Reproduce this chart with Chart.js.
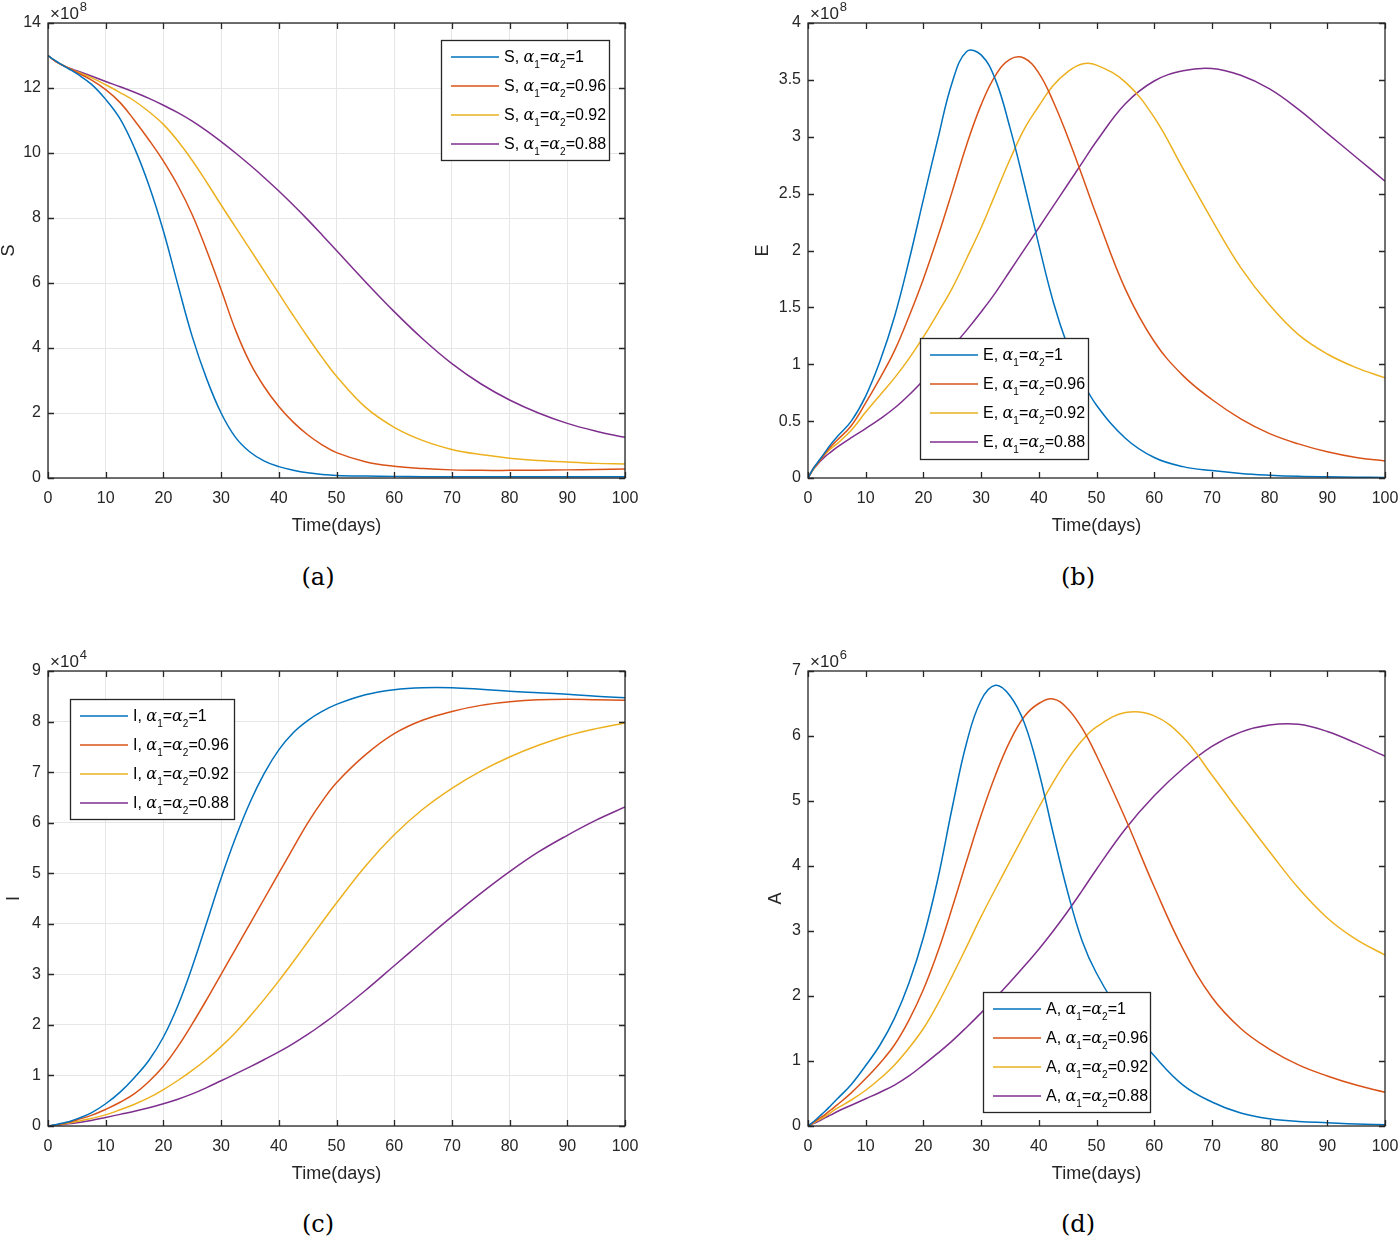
<!DOCTYPE html>
<html>
<head>
<meta charset="utf-8">
<script src="https://cdn.jsdelivr.net/npm/chart.js@4.4.1/dist/chart.umd.min.js"></script>
<style>
  body { margin: 0; background: #fff; width: 1398px; height: 1239px; position: relative; overflow: hidden; }
  canvas { position: absolute; }
  .cap { position: absolute; font-family: "DejaVu Serif", serif; font-size: 24px; color: #000; transform: translate(-50%, -50%); }
</style>
</head>
<body>
<canvas id="chart-s" style="left:0;top:0" width="699" height="560"></canvas>
<canvas id="chart-e" style="left:750px;top:0" width="648" height="560"></canvas>
<canvas id="chart-i" style="left:0;top:648px" width="699" height="560"></canvas>
<canvas id="chart-a" style="left:750px;top:648px" width="648" height="560"></canvas>
<div class="cap" style="left:318px;top:577px">(a)</div>
<div class="cap" style="left:1078px;top:577px">(b)</div>
<div class="cap" style="left:318px;top:1224px">(c)</div>
<div class="cap" style="left:1078px;top:1224px">(d)</div>
<script>
// time axis shared by all four panels
const days = [0, 1, 2, 3, 4, 5, 7.5, 10, 12.5, 15, 17.5, 20, 22.5, 25, 27.5, 30, 32.5, 35, 37.5, 40, 42.5, 45, 47.5, 50, 55, 60, 65, 70, 75, 80, 85, 90, 95, 100];
const alphaValues = ["1", "0.96", "0.92", "0.88"];
const colors = ["#0072BD", "#D95319", "#EDB120", "#7E2F8E"];

// S (x 10^8)
const sAlpha100 = [13, 12.87, 12.76, 12.65, 12.55, 12.44, 12.12, 11.65, 11.05, 10.15, 9.0, 7.6, 5.95, 4.35, 3.05, 2.0, 1.25, 0.8, 0.52, 0.35, 0.24, 0.16, 0.11, 0.08, 0.06, 0.05, 0.04, 0.04, 0.04, 0.04, 0.04, 0.04, 0.04, 0.04];
const sAlpha096 = [13, 12.86, 12.75, 12.66, 12.57, 12.48, 12.25, 11.95, 11.55, 11.0, 10.4, 9.75, 9.0, 8.1, 7.0, 5.8, 4.55, 3.55, 2.8, 2.2, 1.72, 1.33, 1.02, 0.78, 0.5, 0.36, 0.29, 0.25, 0.235, 0.235, 0.24, 0.25, 0.265, 0.28];
const sAlpha092 = [13, 12.86, 12.75, 12.66, 12.58, 12.5, 12.32, 12.1, 11.86, 11.6, 11.27, 10.88, 10.37, 9.77, 9.1, 8.4, 7.72, 7.04, 6.36, 5.68, 5.0, 4.34, 3.71, 3.13, 2.18, 1.56, 1.15, 0.88, 0.72, 0.61, 0.54, 0.49, 0.45, 0.43];
const sAlpha088 = [13, 12.86, 12.75, 12.66, 12.59, 12.53, 12.37, 12.2, 12.04, 11.87, 11.68, 11.47, 11.24, 10.98, 10.68, 10.35, 10.0, 9.63, 9.24, 8.83, 8.4, 7.95, 7.48, 7.0, 6.04, 5.12, 4.27, 3.52, 2.9, 2.4, 2.0, 1.68, 1.44, 1.25];

// E (x 10^8)
const eAlpha100 = [0, 0.09, 0.16, 0.23, 0.3, 0.36, 0.5, 0.72, 1.03, 1.42, 1.91, 2.45, 2.98, 3.48, 3.75, 3.72, 3.5, 3.08, 2.58, 2.05, 1.55, 1.16, 0.86, 0.64, 0.35, 0.18, 0.1, 0.065, 0.04, 0.025, 0.015, 0.01, 0.007, 0.005];
const eAlpha096 = [0, 0.09, 0.15, 0.22, 0.28, 0.33, 0.46, 0.66, 0.88, 1.12, 1.42, 1.75, 2.12, 2.52, 2.93, 3.28, 3.54, 3.68, 3.69, 3.56, 3.31, 3.0, 2.66, 2.31, 1.66, 1.2, 0.9, 0.69, 0.52, 0.39, 0.3, 0.23, 0.18, 0.15];
const eAlpha092 = [0, 0.08, 0.15, 0.21, 0.26, 0.3, 0.42, 0.58, 0.73, 0.88, 1.05, 1.24, 1.45, 1.67, 1.93, 2.2, 2.5, 2.8, 3.07, 3.27, 3.45, 3.57, 3.64, 3.63, 3.48, 3.17, 2.72, 2.27, 1.85, 1.52, 1.26, 1.09, 0.97, 0.88];
const eAlpha088 = [0, 0.08, 0.14, 0.19, 0.23, 0.27, 0.355, 0.435, 0.52, 0.615, 0.73, 0.86, 1.0, 1.15, 1.3, 1.46, 1.63, 1.82, 2.01, 2.2, 2.39, 2.58, 2.77, 2.96, 3.29, 3.49, 3.58, 3.6, 3.54, 3.42, 3.24, 3.03, 2.82, 2.61];

// I (x 10^4)
const iAlpha100 = [0, 0.02, 0.045, 0.07, 0.1, 0.14, 0.26, 0.44, 0.67, 0.96, 1.3, 1.76, 2.38, 3.15, 4.02, 4.9, 5.7, 6.4, 6.98, 7.44, 7.78, 8.02, 8.2, 8.34, 8.53, 8.63, 8.67, 8.67, 8.64, 8.6, 8.57, 8.54, 8.5, 8.47];
const iAlpha096 = [0, 0.015, 0.035, 0.06, 0.085, 0.12, 0.21, 0.33, 0.47, 0.64, 0.88, 1.18, 1.57, 2.02, 2.5, 3.0, 3.5, 4.0, 4.5, 5.0, 5.5, 5.99, 6.42, 6.79, 7.34, 7.76, 8.03, 8.2, 8.32, 8.39, 8.43, 8.44, 8.43, 8.42];
const iAlpha092 = [0, 0.01, 0.025, 0.045, 0.065, 0.09, 0.15, 0.22, 0.32, 0.43, 0.56, 0.72, 0.9, 1.1, 1.32, 1.57, 1.85, 2.17, 2.51, 2.87, 3.25, 3.64, 4.03, 4.41, 5.14, 5.76, 6.27, 6.68, 7.02, 7.3, 7.53, 7.72, 7.86, 7.97];
const iAlpha088 = [0, 0.01, 0.02, 0.035, 0.05, 0.065, 0.11, 0.17, 0.23, 0.29, 0.36, 0.44, 0.53, 0.635, 0.76, 0.895, 1.03, 1.17, 1.315, 1.465, 1.63, 1.81, 2.01, 2.22, 2.68, 3.17, 3.66, 4.14, 4.6, 5.03, 5.42, 5.75, 6.05, 6.31];

// A (x 10^6)
const aAlpha100 = [0, 0.07, 0.15, 0.23, 0.32, 0.41, 0.64, 0.93, 1.25, 1.66, 2.2, 2.9, 3.8, 4.9, 5.9, 6.55, 6.78, 6.62, 6.2, 5.45, 4.5, 3.6, 2.85, 2.35, 1.62, 1.08, 0.63, 0.37, 0.2, 0.11, 0.07, 0.05, 0.03, 0.02];
const aAlpha096 = [0, 0.06, 0.12, 0.18, 0.25, 0.32, 0.51, 0.73, 0.97, 1.25, 1.63, 2.1, 2.68, 3.36, 4.08, 4.78, 5.4, 5.92, 6.3, 6.5, 6.57, 6.42, 6.12, 5.7, 4.73, 3.68, 2.72, 1.98, 1.5, 1.18, 0.94, 0.77, 0.63, 0.52];
const aAlpha092 = [0, 0.05, 0.1, 0.15, 0.21, 0.27, 0.4, 0.55, 0.73, 0.94, 1.2, 1.5, 1.88, 2.31, 2.76, 3.22, 3.65, 4.07, 4.49, 4.9, 5.29, 5.64, 5.93, 6.14, 6.36, 6.31, 5.98, 5.4, 4.8, 4.22, 3.66, 3.2, 2.87, 2.63];
const aAlpha088 = [0, 0.04, 0.08, 0.13, 0.17, 0.22, 0.32, 0.42, 0.52, 0.63, 0.77, 0.94, 1.12, 1.31, 1.52, 1.74, 1.97, 2.21, 2.46, 2.72, 3.0, 3.3, 3.62, 3.95, 4.57, 5.08, 5.5, 5.84, 6.06, 6.17, 6.18, 6.07, 5.89, 5.69];

const SANS = "'Liberation Sans', Arial, sans-serif";
const AXIS_COLOR = "#262626";

const panels = [
  { canvas: "chart-s", name: "S", exponent: "8", yMax: 14, yStep: 2, grid: true, axisWidth: 48, rightPad: 74, titlePad: 0,
    series: [sAlpha100, sAlpha096, sAlpha092, sAlpha088], legendBox: { x: 441, y: 40, w: 168, h: 120 } },
  { canvas: "chart-e", name: "E", exponent: "8", yMax: 4, yStep: 0.5, grid: false, axisWidth: 58, rightPad: 13, titlePad: 4,
    series: [eAlpha100, eAlpha096, eAlpha092, eAlpha088], legendBox: { x: 170, y: 338, w: 168, h: 121 } },
  { canvas: "chart-i", name: "I", exponent: "4", yMax: 9, yStep: 1, grid: true, axisWidth: 48, rightPad: 74, titlePad: 5,
    series: [iAlpha100, iAlpha096, iAlpha092, iAlpha088], legendBox: { x: 70, y: 51, w: 164, h: 120 } },
  { canvas: "chart-a", name: "A", exponent: "6", yMax: 7, yStep: 1, grid: false, axisWidth: 58, rightPad: 13, titlePad: 17,
    series: [aAlpha100, aAlpha096, aAlpha092, aAlpha088], legendBox: { x: 233, y: 344, w: 167, h: 120 } },
];

function drawLegendLabel(ctx, x, y, prefix, value) {
  let cx = x;
  const seg = (text, font, dy) => {
    ctx.font = font;
    ctx.fillText(text, cx, y + (dy || 0));
    cx += ctx.measureText(text).width;
  };
  const txt = "16px " + SANS;
  const greek = "italic 16px 'DejaVu Serif', serif";
  const sub = "10px " + SANS;
  seg(prefix + ", ", txt);
  seg("\u03b1", greek);
  seg("1", sub, 6);
  seg("=", txt);
  seg("\u03b1", greek);
  seg("2", sub, 6);
  seg("=" + value, txt);
}

// box, inward ticks, exponent and legend in the MATLAB look
const matlabAxes = {
  id: "matlabAxes",
  afterDatasetsDraw(chart, args, opts) {
    const { ctx, chartArea: a, scales } = chart;
    const tick = 6;
    ctx.save();
    ctx.strokeStyle = AXIS_COLOR;
    ctx.lineWidth = 1.3;
    ctx.beginPath();
    scales.x.ticks.forEach((t) => {
      const px = Math.round(scales.x.getPixelForValue(t.value)) + 0.5;
      ctx.moveTo(px, a.bottom); ctx.lineTo(px, a.bottom - tick);
      ctx.moveTo(px, a.top); ctx.lineTo(px, a.top + tick);
    });
    scales.y.ticks.forEach((t) => {
      const py = Math.round(scales.y.getPixelForValue(t.value)) + 0.5;
      ctx.moveTo(a.left, py); ctx.lineTo(a.left + tick, py);
      ctx.moveTo(a.right, py); ctx.lineTo(a.right - tick, py);
    });
    ctx.stroke();
    ctx.strokeRect(a.left, a.top, a.right - a.left, a.bottom - a.top);

    // exponent label
    ctx.fillStyle = AXIS_COLOR;
    ctx.textBaseline = "alphabetic";
    ctx.font = "17px " + SANS;
    ctx.fillText("\u00d710", a.left + 2, a.top - 4);
    const w = ctx.measureText("\u00d710").width;
    ctx.font = "13px " + SANS;
    ctx.fillText(opts.exponent, a.left + 2 + w + 1, a.top - 12);

    // legend
    const b = opts.legendBox;
    ctx.fillStyle = "#fff";
    ctx.fillRect(b.x, b.y, b.w, b.h);
    ctx.strokeStyle = "#262626";
    ctx.lineWidth = 1.3;
    ctx.strokeRect(b.x + 0.5, b.y + 0.5, b.w, b.h);
    chart.data.datasets.forEach((ds, i) => {
      const ly = b.y + 17 + i * 29;
      ctx.strokeStyle = ds.borderColor;
      ctx.lineWidth = 1.5;
      ctx.beginPath();
      ctx.moveTo(b.x + 10, ly);
      ctx.lineTo(b.x + 58, ly);
      ctx.stroke();
      ctx.fillStyle = "#000";
      drawLegendLabel(ctx, b.x + 63, ly + 5, opts.name, alphaValues[i]);
    });
    ctx.restore();
  },
};

panels.forEach((p) => {
  const datasets = p.series.map((values, i) => ({
    label: p.name + ", a1=a2=" + alphaValues[i],
    data: days.map((d, k) => ({ x: d, y: values[k] })),
    borderColor: colors[i],
    backgroundColor: colors[i],
    borderWidth: 1.5,
    pointRadius: 0,
    tension: 0.4,
    fill: false,
  }));
  const gridOpts = p.grid
    ? { display: true, color: "#e6e6e6", lineWidth: 1, drawTicks: false, tickLength: 0 }
    : { display: false, drawTicks: false, tickLength: 0 };
  new Chart(document.getElementById(p.canvas), {
    type: "line",
    data: { datasets },
    plugins: [matlabAxes],
    options: {
      responsive: false,
      animation: false,
      layout: { padding: { left: 0, top: 23, right: p.rightPad, bottom: 25 } },
      plugins: {
        legend: { display: false },
        tooltip: { enabled: false },
        matlabAxes: { exponent: p.exponent, legendBox: p.legendBox, name: p.name },
      },
      scales: {
        x: {
          type: "linear", min: 0, max: 100,
          ticks: { stepSize: 10, color: AXIS_COLOR, font: { size: 16, family: SANS }, padding: 11, maxRotation: 0 },
          grid: gridOpts,
          border: { display: false },
          title: { display: true, text: "Time(days)", color: AXIS_COLOR, font: { size: 18, family: SANS, lineHeight: 1 }, padding: 0 },
          afterFit(s) { s.height = 57; s.paddingLeft = 0; s.paddingRight = 0; },
        },
        y: {
          type: "linear", min: 0, max: p.yMax,
          ticks: { stepSize: p.yStep, color: AXIS_COLOR, font: { size: 16, family: SANS }, padding: 7,
            callback: (v) => String(v) },
          grid: gridOpts,
          border: { display: false },
          title: { display: true, text: p.name, color: AXIS_COLOR, font: { size: 18, family: SANS, lineHeight: 1 },
            padding: { top: p.titlePad, bottom: 0 } },
          afterFit(s) { s.width = p.axisWidth; s.paddingTop = 0; s.paddingBottom = 0; },
        },
      },
    },
  });
});
</script>
</body>
</html>
